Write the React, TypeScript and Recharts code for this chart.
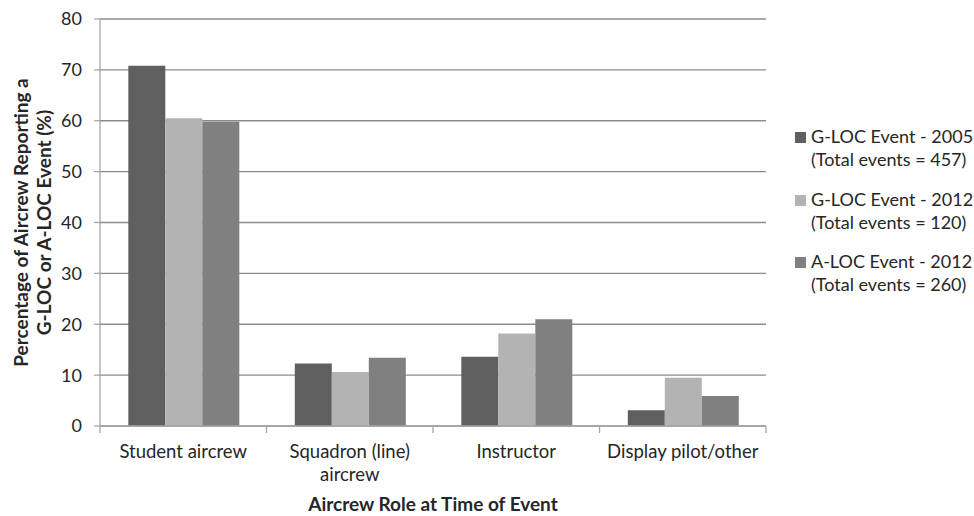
import { Bar, BarChart, CartesianGrid, Label, XAxis, YAxis } from "recharts";

const roles = ["Student aircrew", "Squadron (line)\naircrew", "Instructor", "Display pilot/other"];
const gloc2005 = [70.8, 12.3, 13.6, 3.1];
const gloc2012 = [60.5, 10.6, 18.2, 9.5];
const aloc2012 = [59.8, 13.4, 21.0, 5.9];
const yTicks = [0, 10, 20, 30, 40, 50, 60, 70, 80];

const SERIES = [
  { key: "gloc2005", line1: "G-LOC Event - 2005", line2: "(Total events = 457)", color: "#5f5f5f" },
  { key: "gloc2012", line1: "G-LOC Event - 2012", line2: "(Total events = 120)", color: "#b3b3b3" },
  { key: "aloc2012", line1: "A-LOC Event - 2012", line2: "(Total events = 260)", color: "#808080" },
];

const FONT = "Lato, 'Noto Sans', sans-serif";
const TEXT = "#262626";
const AXIS = "#a6a6a6";
const GRID = "#8c8c8c";

const rows = roles.map((role, i) => ({
  role,
  gloc2005: gloc2005[i],
  gloc2012: gloc2012[i],
  aloc2012: aloc2012[i],
}));

function RoleTick(props: any) {
  const { x, y, payload, index, visibleTicksCount } = props;
  const band = 666 / roles.length;
  const lines = String(payload.value).split("\n");
  return (
    <g>
      <line x1={x - band / 2} x2={x - band / 2} y1={y - 8} y2={y - 1} stroke={AXIS} strokeWidth={1.3} />
      {index === visibleTicksCount - 1 && (
        <line x1={x + band / 2} x2={x + band / 2} y1={y - 8} y2={y - 1} stroke={AXIS} strokeWidth={1.3} />
      )}
      <text x={x} y={y + 24} textAnchor="middle" fill={TEXT} fontSize={18.5} fontFamily={FONT}>
        {lines.map((l, i) => (
          <tspan key={i} x={x} dy={i === 0 ? 0 : 23}>
            {l}
          </tspan>
        ))}
      </text>
    </g>
  );
}

function YTitle(props: any) {
  const { viewBox } = props;
  const cy = viewBox.y + viewBox.height / 2;
  return (
    <g fontFamily={FONT} fontSize={19} fontWeight="bold" fill={TEXT}>
      <text x={20} y={cy} textAnchor="middle" transform={`rotate(-90 20 ${cy})`} dominantBaseline="central">
        Percentage of Aircrew Reporting a
      </text>
      <text x={43} y={cy} textAnchor="middle" transform={`rotate(-90 43 ${cy})`} dominantBaseline="central">
        G-LOC or A-LOC Event (%)
      </text>
    </g>
  );
}

function LegendBox() {
  return (
    <div
      style={{
        position: "absolute",
        left: 795,
        top: 125,
        fontFamily: FONT,
        fontSize: 18,
        color: TEXT,
        lineHeight: "23px",
      }}
    >
      {SERIES.map((s) => (
        <div key={s.key} style={{ display: "flex", alignItems: "flex-start", marginBottom: 16.5 }}>
          <div style={{ width: 11, height: 11, background: s.color, marginTop: 7, marginRight: 5 }} />
          <div>
            <div>{s.line1}</div>
            <div>{s.line2}</div>
          </div>
        </div>
      ))}
    </div>
  );
}

export default function App() {
  return (
    <div style={{ position: "absolute", left: 0, top: 0, width: 974, height: 516, background: "#fff" }}>
      <BarChart
        width={974}
        height={516}
        data={rows}
        margin={{ top: 19, right: 208, bottom: 0, left: 0 }}
        barCategoryGap="17%"
        barGap={0}
      >
        <CartesianGrid stroke={GRID} strokeWidth={1.3} vertical={false} />
        <XAxis
          dataKey="role"
          tick={<RoleTick />}
          tickLine={false}
          axisLine={{ stroke: AXIS, strokeWidth: 1.3 }}
          interval={0}
          height={90}
        >
          <Label
            value="Aircrew Role at Time of Event"
            position="insideBottom"
            offset={5}
            style={{ fontFamily: FONT, fontSize: 19, fontWeight: "bold", fill: TEXT }}
          />
        </XAxis>
        <YAxis
          width={100}
          domain={[0, 80]}
          ticks={yTicks}
          interval={0}
          tickSize={6}
          tickMargin={12}
          tickLine={{ stroke: AXIS, strokeWidth: 1.3 }}
          axisLine={{ stroke: AXIS, strokeWidth: 1.3 }}
          tick={{ fontFamily: FONT, fontSize: 18, fill: TEXT }}
        >
          <Label content={<YTitle />} />
        </YAxis>
        {SERIES.map((s) => (
          <Bar key={s.key} dataKey={s.key} fill={s.color} isAnimationActive={false} />
        ))}
      </BarChart>
      <LegendBox />
    </div>
  );
}
